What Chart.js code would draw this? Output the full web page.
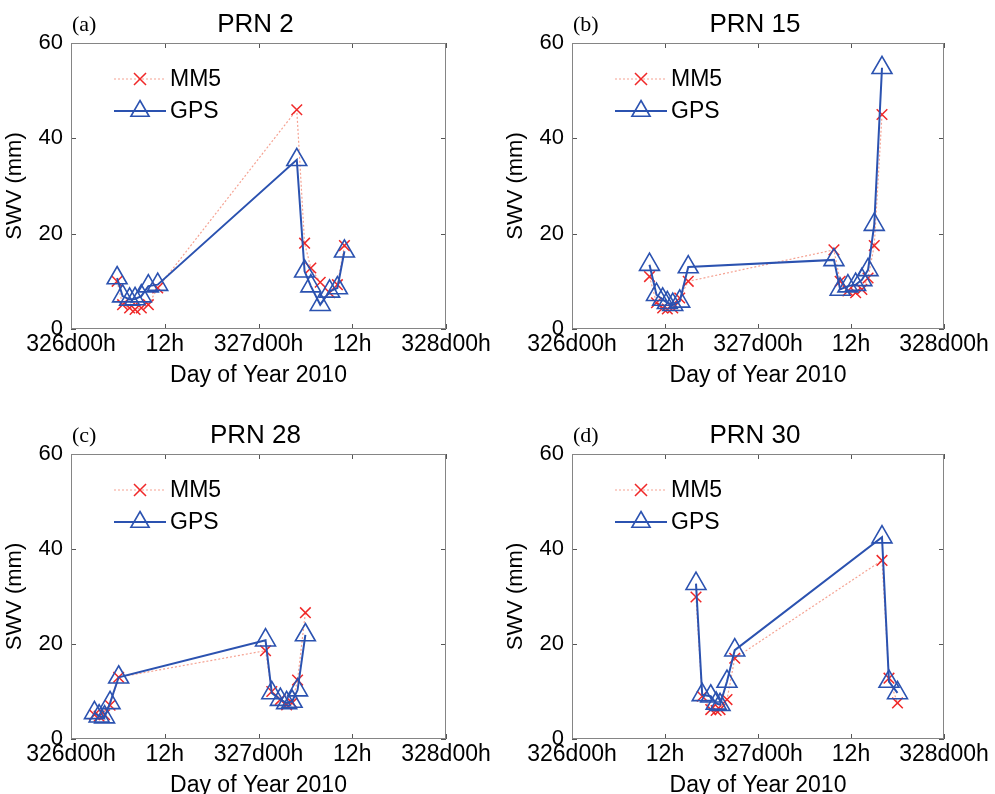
<!DOCTYPE html>
<html>
<head>
<meta charset="utf-8">
<script src="https://cdn.jsdelivr.net/npm/chart.js@4.4.1/dist/chart.umd.min.js"></script>
<style>
  html, body { margin: 0; padding: 0; background: #fff; }
  body { width: 995px; height: 794px; overflow: hidden; position: relative; }
  canvas { position: absolute; }
</style>
</head>
<body>
<canvas id="chartA" width="497" height="397" style="left:0;top:0"></canvas>
<canvas id="chartB" width="494" height="397" style="left:501px;top:0"></canvas>
<canvas id="chartC" width="497" height="396" style="left:0;top:411px"></canvas>
<canvas id="chartD" width="494" height="396" style="left:501px;top:411px"></canvas>
<script>
// x values are hours after 326d00h
const xTickLabels = ['326d00h', '12h', '327d00h', '12h', '328d00h'];

const timesA = [5.9, 6.6, 7.5, 8.2, 9.0, 9.9, 11.1, 28.9, 29.9, 30.7, 31.9, 33.1, 34.1, 35.0];
const mm5A   = [10.0, 5.1, 4.4, 4.1, 4.4, 5.1, 8.6, 46.0, 18.0, 12.8, 9.8, 7.6, 9.3, 17.5];
const gpsA   = [10.7, 6.9, 6.2, 6.3, 6.9, 9.0, 9.3, 35.5, 12.1, 9.0, 5.1, 7.9, 8.6, 16.3];

const timesB = [10.0, 10.9, 11.7, 12.3, 13.0, 13.9, 15.0, 33.8, 34.6, 35.6, 36.6, 37.4, 38.2, 39.0, 40.0];
const mm5B   = [11.0, 5.5, 4.4, 4.2, 4.4, 6.5, 10.0, 16.6, 10.0, 8.0, 7.6, 8.3, 10.7, 17.5, 45.0];
const gpsB   = [13.5, 7.2, 6.2, 5.5, 5.1, 5.8, 13.0, 14.5, 8.3, 9.0, 9.3, 10.3, 12.4, 21.9, 54.8];

const timesC = [3.0, 3.6, 4.3, 5.0, 6.1, 24.9, 25.7, 26.8, 27.6, 28.3, 29.0, 30.0];
const mm5C   = [5.1, 4.8, 5.1, 7.1, 13.0, 18.6, 10.0, 8.3, 7.2, 7.6, 12.4, 26.6];
const gpsC   = [5.5, 4.8, 4.6, 7.6, 13.0, 20.8, 9.7, 8.3, 7.6, 7.9, 10.3, 21.9];

const timesD = [16.0, 16.8, 17.9, 18.6, 19.1, 20.0, 21.0, 40.0, 40.9, 42.0];
const mm5D   = [29.9, 9.0, 6.2, 6.0, 6.2, 8.3, 17.0, 37.6, 12.8, 7.6];
const gpsD   = [32.7, 9.3, 9.0, 7.5, 7.2, 12.1, 18.7, 42.5, 12.1, 9.7];

const panels = [
  { id: 'chartA', letter: '(a)', title: 'PRN 2',  times: timesA, mm5: mm5A, gps: gpsA },
  { id: 'chartB', letter: '(b)', title: 'PRN 15', times: timesB, mm5: mm5B, gps: gpsB },
  { id: 'chartC', letter: '(c)', title: 'PRN 28', times: timesC, mm5: mm5C, gps: gpsC },
  { id: 'chartD', letter: '(d)', title: 'PRN 30', times: timesD, mm5: mm5D, gps: gpsD }
];

const RED = '#f02828';
const SALMON = '#f5a292';
const BLUE = '#2b52b0';

Chart.defaults.font.family = '"Liberation Sans", Arial, sans-serif';
Chart.defaults.color = '#000';

function drawCross(ctx, x, y, r) {
  const d = r * Math.SQRT1_2;
  ctx.beginPath();
  ctx.moveTo(x - d, y - d); ctx.lineTo(x + d, y + d);
  ctx.moveTo(x + d, y - d); ctx.lineTo(x - d, y + d);
  ctx.stroke();
}

function drawTriangle(ctx, x, y, r) {
  const s = r * Math.sin(Math.PI / 3);
  ctx.beginPath();
  ctx.moveTo(x, y - r);
  ctx.lineTo(x + s, y + r / 2);
  ctx.lineTo(x - s, y + r / 2);
  ctx.closePath();
  ctx.stroke();
}

// frame, inward ticks, title, panel letter and legend (matlab look)
const decor = {
  id: 'decor',
  afterDraw(chart, args, opts) {
    const { ctx, chartArea: a, scales: { x, y } } = chart;
    ctx.save();

    ctx.strokeStyle = '#555';
    ctx.lineWidth = 1;
    ctx.beginPath();
    x.ticks.forEach(t => {
      const px = Math.round(x.getPixelForValue(t.value)) + 0.5;
      ctx.moveTo(px, a.bottom); ctx.lineTo(px, a.bottom - 5);
      ctx.moveTo(px, a.top); ctx.lineTo(px, a.top + 5);
    });
    y.ticks.forEach(t => {
      const py = Math.round(y.getPixelForValue(t.value)) + 0.5;
      ctx.moveTo(a.left, py); ctx.lineTo(a.left + 5, py);
      ctx.moveTo(a.right, py); ctx.lineTo(a.right - 5, py);
    });
    ctx.stroke();

    ctx.strokeStyle = '#858585';
    ctx.strokeRect(Math.round(a.left) + 0.5, Math.round(a.top) + 0.5,
      Math.round(a.width) - 1, Math.round(a.height) - 1);

    ctx.fillStyle = '#000';
    ctx.textBaseline = 'alphabetic';
    ctx.textAlign = 'center';
    ctx.font = '26px "Liberation Sans", Arial, sans-serif';
    ctx.fillText(opts.title, (a.left + a.right) / 2 - 3, a.top - 11);

    ctx.textAlign = 'left';
    ctx.font = '22px "Liberation Serif", "Times New Roman", serif';
    ctx.fillText(opts.letter, a.left + 1, a.top - 12);

    // legend
    ctx.font = '23px "Liberation Sans", Arial, sans-serif';
    ctx.textBaseline = 'middle';
    const rows = [
      { label: 'MM5', color: SALMON, width: 1.2, dash: [2, 2], marker: 'x', y: a.top + 36 },
      { label: 'GPS', color: BLUE, width: 2, dash: [], marker: 'tri', y: a.top + 68 }
    ];
    rows.forEach(r => {
      ctx.setLineDash(r.dash);
      ctx.strokeStyle = r.color;
      ctx.lineWidth = r.width;
      ctx.beginPath();
      ctx.moveTo(a.left + 43, r.y); ctx.lineTo(a.left + 95, r.y);
      ctx.stroke();
      ctx.setLineDash([]);
      if (r.marker === 'x') {
        ctx.strokeStyle = RED; ctx.lineWidth = 1.5;
        drawCross(ctx, a.left + 69, r.y, 8.5);
      } else {
        ctx.strokeStyle = BLUE; ctx.lineWidth = 1.6;
        drawTriangle(ctx, a.left + 69, r.y, 10.5);
      }
      ctx.fillText(r.label, a.left + 99, r.y + 1);
    });
    ctx.restore();
  }
};

panels.forEach(p => {
  new Chart(document.getElementById(p.id), {
    type: 'line',
    data: {
      datasets: [
        {
          label: 'MM5',
          data: p.times.map((t, i) => ({ x: t, y: p.mm5[i] })),
          borderColor: SALMON,
          borderWidth: 1.2,
          borderDash: [2, 2],
          pointStyle: 'crossRot',
          pointRadius: 7.5,
          pointBorderColor: RED,
          pointBackgroundColor: RED,
          pointBorderWidth: 1.5,
          tension: 0,
          order: 1
        },
        {
          label: 'GPS',
          data: p.times.map((t, i) => ({ x: t, y: p.gps[i] })),
          borderColor: BLUE,
          borderWidth: 2,
          pointStyle: 'triangle',
          pointRadius: 11.5,
          pointBorderColor: BLUE,
          pointBackgroundColor: 'rgba(0,0,0,0)',
          pointBorderWidth: 1.6,
          tension: 0,
          order: 0
        }
      ]
    },
    options: {
      responsive: false,
      animation: false,
      events: [],
      layout: { padding: { left: 0, top: 43, right: 51, bottom: 0 } },
      plugins: {
        legend: { display: false },
        tooltip: { enabled: false },
        decor: { title: p.title, letter: p.letter }
      },
      scales: {
        x: {
          type: 'linear',
          min: 0,
          max: 48,
          ticks: {
            stepSize: 12,
            autoSkip: false,
            maxRotation: 0,
            padding: 2,
            font: { size: 23 },
            callback: v => xTickLabels[v / 12]
          },
          grid: { display: false, drawTicks: false },
          border: { display: false },
          title: {
            display: true,
            text: 'Day of Year 2010',
            font: { size: 23 },
            padding: { top: 0, bottom: 8 }
          },
          afterFit: s => { s.height = 68; s.paddingLeft = 0; s.paddingRight = 0; }
        },
        y: {
          type: 'linear',
          min: 0,
          max: 60,
          ticks: { stepSize: 20, padding: 8, font: { size: 22 } },
          grid: { display: false, drawTicks: false },
          border: { display: false },
          title: {
            display: true,
            text: 'SWV (mm)',
            font: { size: 22 },
            padding: { top: 2, bottom: 0 }
          },
          afterFit: s => { s.width = 71; s.paddingTop = 0; s.paddingBottom = 0; }
        }
      }
    },
    plugins: [decor]
  });
});
</script>
</body>
</html>
